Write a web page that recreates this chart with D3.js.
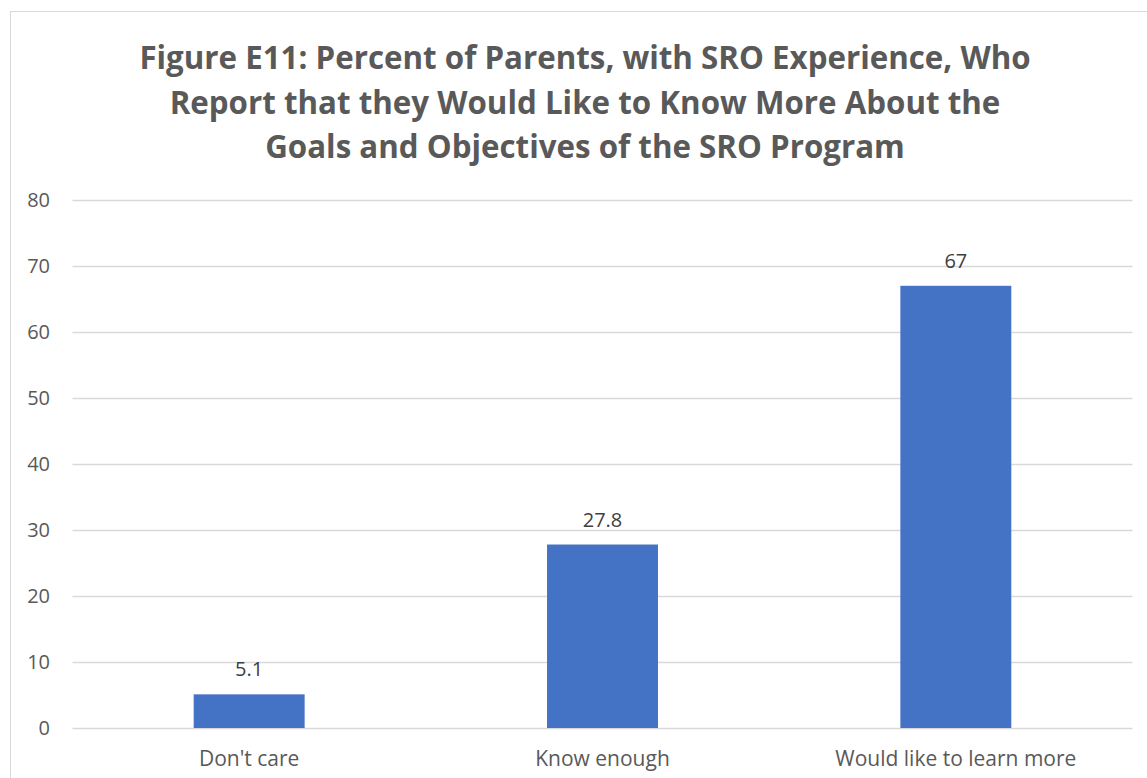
<!DOCTYPE html>
<html>
<head>
<meta charset="utf-8">
<script src="https://cdn.jsdelivr.net/npm/d3@7"></script>
<style>
  body { margin: 0; background: #fff; }
  text { font-family: "Open Sans", sans-serif; }
</style>
</head>
<body>
<svg id="chart" width="1147" height="778"></svg>
<script>
var categories = ["Don't care", "Know enough", "Would like to learn more"];
var values = [5.1, 27.8, 67];
var valueLabels = ["5.1", "27.8", "67"];
var yTicks = [0, 10, 20, 30, 40, 50, 60, 70, 80];
var titleLines = [
  "Figure E11: Percent of Parents, with SRO Experience, Who",
  "Report that they Would Like to Know More About the",
  "Goals and Objectives of the SRO Program"
];

var svg = d3.select("#chart");

// chart frame
svg.append("rect")
  .attr("x", 10.5).attr("y", 11.5)
  .attr("width", 1150).attr("height", 800)
  .attr("fill", "#fff")
  .attr("stroke", "#d9d9d9");

var xScale = d3.scaleBand()
  .domain(categories)
  .range([72.5, 1132.5])
  .paddingInner(0.686)
  .paddingOuter(0.343);

var yScale = d3.scaleLinear()
  .domain([0, 80])
  .range([728, 200]);

// gridlines
svg.append("g")
  .selectAll("line")
  .data(yTicks)
  .enter()
  .append("line")
  .attr("x1", 72.5)
  .attr("x2", 1132.5)
  .attr("y1", function(d) { return Math.round(yScale(d)) + 0.5; })
  .attr("y2", function(d) { return Math.round(yScale(d)) + 0.5; })
  .attr("stroke", "#d9d9d9")
  .attr("stroke-width", 1.3);

// y tick labels
svg.append("g")
  .selectAll("text")
  .data(yTicks)
  .enter()
  .append("text")
  .text(function(d) { return d; })
  .attr("x", 50)
  .attr("y", function(d) { return yScale(d); })
  .attr("dy", "0.35em")
  .attr("text-anchor", "end")
  .attr("font-size", 20)
  .attr("fill", "#595959");

// bars
svg.append("g")
  .selectAll("rect")
  .data(values)
  .enter()
  .append("rect")
  .attr("x", function(d, i) { return xScale(categories[i]); })
  .attr("width", xScale.bandwidth())
  .attr("y", function(d) { return yScale(d); })
  .attr("height", function(d) { return yScale(0) - yScale(d); })
  .attr("fill", "#4472c4");

// data labels
svg.append("g")
  .selectAll("text")
  .data(values)
  .enter()
  .append("text")
  .text(function(d, i) { return valueLabels[i]; })
  .attr("x", function(d, i) { return xScale(categories[i]) + xScale.bandwidth() / 2; })
  .attr("y", function(d) { return yScale(d) - 18; })
  .attr("text-anchor", "middle")
  .attr("font-size", 20)
  .attr("fill", "#404040");

// category labels
svg.append("g")
  .selectAll("text")
  .data(categories)
  .enter()
  .append("text")
  .text(function(d) { return d; })
  .attr("x", function(d) { return xScale(d) + xScale.bandwidth() / 2; })
  .attr("y", 766)
  .attr("text-anchor", "middle")
  .attr("font-size", 21)
  .attr("fill", "#595959");

// title
svg.append("g")
  .selectAll("text")
  .data(titleLines)
  .enter()
  .append("text")
  .text(function(d) { return d; })
  .attr("x", 585)
  .attr("y", function(d, i) { return 69 + i * 44.5; })
  .attr("text-anchor", "middle")
  .attr("font-size", 31.3)
  .attr("font-weight", "bold")
  .attr("fill", "#595959");
</script>
</body>
</html>
